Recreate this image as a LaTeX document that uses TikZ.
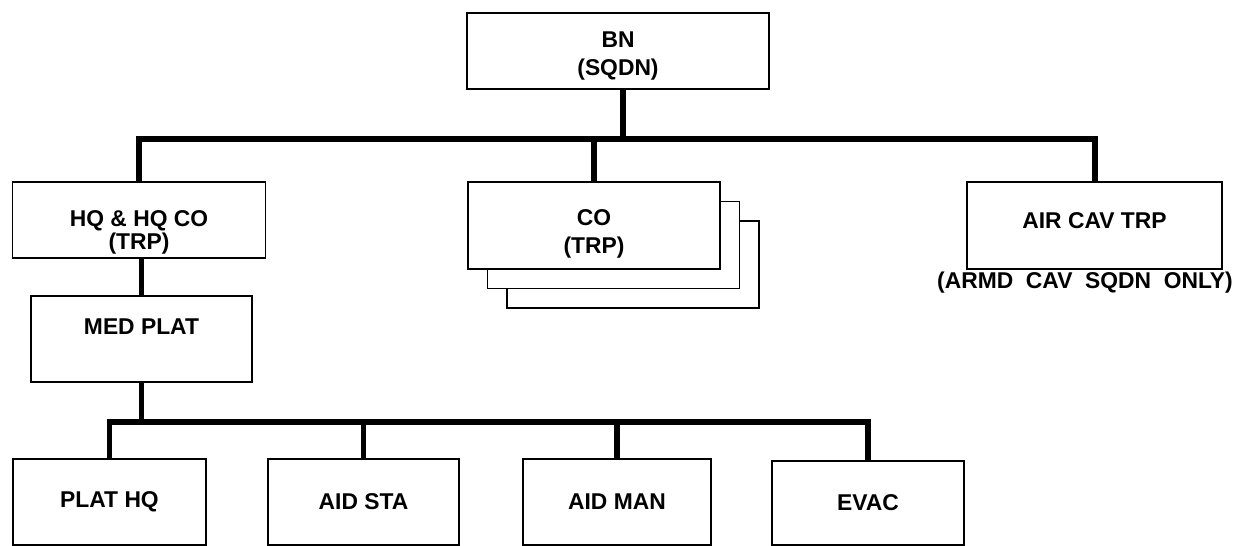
\documentclass[tikz,border=0pt]{standalone}
\usepackage{fontspec}
\setmainfont{Liberation Sans}
\usetikzlibrary{shadows}
\begin{document}
\begin{tikzpicture}[x=0.02cm,y=-0.02cm,
  every node/.style={font=\fontsize{13}{16}\selectfont\bfseries,align=center},
  unit/.style={draw,line width=1.1pt,fill=white,inner sep=0pt},
  stack/.style={copy shadow={shadow xshift=0.78cm,shadow yshift=-0.78cm,opacity=1,fill=white,draw=black,line width=1.1pt},
    copy shadow={shadow xshift=0.39cm,shadow yshift=-0.39cm,opacity=1,fill=white,draw=black,line width=1.1pt}},
  bus/.style={line width=3.4pt}]
  \useasboundingbox (0,0) rectangle (1244,546);
  \node[unit,minimum width=6.04cm,minimum height=1.52cm,text height=31pt] (bn) at (618,51) {BN\\(SQDN)};
  \node[unit,minimum width=5.06cm,minimum height=1.52cm,text height=36pt] (hq) at (139,220) {HQ \& HQ CO\\[-3pt](TRP)};
  \node[unit,stack,minimum width=5.04cm,minimum height=1.74cm,text height=34.4pt] (co) at (594,225.5) {CO\\(TRP)};
  \node[unit,minimum width=5.10cm,minimum height=1.74cm,text depth=0.2cm] (air) at (1094.5,225.5) {AIR CAV TRP};
  \node (note) at (1085,283) {(ARMD\ \ CAV\ \ SQDN\ \ ONLY)};
  \node[unit,minimum width=4.42cm,minimum height=1.72cm,text depth=0.48cm] (med) at (141.5,339) {MED PLAT};
  \node[unit,minimum width=3.86cm,minimum height=1.72cm] (plathq) at (109.5,502) {PLAT HQ};
  \node[unit,minimum width=3.82cm,minimum height=1.72cm] (aidsta) at (363.5,502) {AID STA};
  \node[unit,minimum width=3.76cm,minimum height=1.72cm] (aidman) at (617,502) {AID MAN};
  \node[unit,minimum width=3.84cm,minimum height=1.68cm] (evac) at (868,503) {EVAC};
  \coordinate (top) at (623,139);
  \coordinate (low) at (142,422);
  \draw[bus] (bn.south -| top) -- (top);
  \draw[bus] (hq.north) |- (top) -| (air.north);
  \draw[bus] (co.north) -- (co.north |- top);
  \draw[bus] (hq.south -| med) -- (med.north);
  \draw[bus] (med.south) -- (med.south |- low);
  \draw[bus] (plathq.north) |- (low) -| (evac.north);
  \draw[bus] (aidsta.north) -- (aidsta.north |- low);
  \draw[bus] (aidman.north) -- (aidman.north |- low);
\end{tikzpicture}
\end{document}
